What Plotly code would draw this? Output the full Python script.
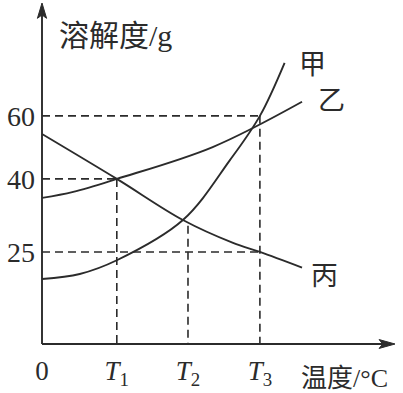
import math
import plotly.graph_objects as go

# ---- data ----
jia_x = [0.0, 0.52, 1.03, 1.94, 2.59, 3.0, 3.34]
jia_y = [21.0, 21.7, 23.7, 30.7, 45.2, 60.0, 84.4]

yi_x = [0.0, 0.43, 1.03, 2.35, 3.58]
yi_y = [35.4, 36.8, 40.0, 49.1, 65.7]

bing_x = [0.0, 1.03, 1.94, 2.63, 3.0, 3.58]
bing_y = [53.4, 40.0, 30.7, 26.5, 25.0, 22.6]

x_tick_vals = [0.0, 1.03, 2.01, 3.0]
x_tick_text = ["0", "<i>T</i><sub>1</sub>", "<i>T</i><sub>2</sub>", "<i>T</i><sub>3</sub>"]
y_tick_vals = [25, 40, 60]
y_tick_text = ["25", "40", "60"]

# guide lines: (level, x end) and (T position, y start)
h_guides = [(60, 3.0), (40, 1.03), (25, 3.0)]
v_guides = [(1.03, 40.0), (2.01, 29.6), (3.0, 60.0)]

curve_names = ["甲", "乙", "丙"]
label_x = [3.73, 3.99, 3.89]
label_y = [84.7, 67.0, 21.8]

y_min, y_max = 13.83, 124.0
x_min, x_max = 0.0, 4.86

INK = "#2b2b2b"
SERIF = "Liberation Serif, Times New Roman, serif"
CJK = "Noto Sans CJK SC, sans-serif"

fig = go.Figure()

for lvl, xe in h_guides:
    fig.add_trace(go.Scatter(x=[x_min, xe], y=[lvl, lvl], mode="lines",
                             line=dict(color=INK, width=1.6, dash="8px,5px"),
                             hoverinfo="skip", showlegend=False))
for xt, ys in v_guides:
    fig.add_trace(go.Scatter(x=[xt, xt], y=[ys, y_min], mode="lines",
                             line=dict(color=INK, width=1.6, dash="8px,5px"),
                             hoverinfo="skip", showlegend=False))

for xs, ys, name in zip([jia_x, yi_x, bing_x], [jia_y, yi_y, bing_y], curve_names):
    fig.add_trace(go.Scatter(x=xs, y=ys, mode="lines", name=name,
                             line=dict(color=INK, width=1.9, shape="spline", smoothing=1.0),
                             showlegend=False))

# curve name labels
for name, xa, ya in zip(curve_names, label_x, label_y):
    fig.add_annotation(x=xa, y=math.log10(ya), text=name, showarrow=False,
                       font=dict(family=CJK, size=27, color=INK))

# axis lines with arrowheads (paper coordinates)
fig.add_shape(type="line", xref="paper", yref="paper", x0=0, y0=0, x1=0, y1=0.985,
              line=dict(color=INK, width=1.9))
fig.add_shape(type="line", xref="paper", yref="paper", x0=0, y0=0, x1=0.985, y1=0,
              line=dict(color=INK, width=1.9))
fig.add_shape(type="path", xref="paper", yref="paper",
              path="M -0.013,0.955 L 0,1 L 0.013,0.955 L 0,0.965 Z",
              fillcolor=INK, line=dict(color=INK, width=1))
fig.add_shape(type="path", xref="paper", yref="paper",
              path="M 0.955,0.013 L 1,0 L 0.955,-0.013 L 0.965,0 Z",
              fillcolor=INK, line=dict(color=INK, width=1))

# axis titles
fig.add_annotation(x=(57 - 42) / 353, y=1 - (33 - 3) / 341, xref="paper", yref="paper",
                   xanchor="left", yanchor="middle", showarrow=False,
                   text="<span style='font-family:Noto Sans CJK SC'>溶解度</span>/g",
                   font=dict(family=SERIF, size=30, color=INK))
fig.add_annotation(x=(299 - 42) / 353, y=-(375 - 344) / 341, xref="paper", yref="paper",
                   xanchor="left", yanchor="middle", showarrow=False,
                   text="<span style='font-family:Noto Sans CJK SC'>温度</span>/°C",
                   font=dict(family=SERIF, size=26, color=INK))

fig.update_xaxes(range=[x_min, x_max], tickvals=x_tick_vals, ticktext=x_tick_text,
                 showgrid=False, zeroline=False, showline=False, ticks="",
                 ticklabelstandoff=8,
                 tickfont=dict(family=SERIF, size=27, color=INK))
fig.update_yaxes(type="log", range=[math.log10(y_min), math.log10(y_max)],
                 tickvals=y_tick_vals, ticktext=y_tick_text,
                 showgrid=False, zeroline=False, showline=False, ticks="",
                 ticklabelstandoff=6,
                 tickfont=dict(family=SERIF, size=28, color=INK))

fig.update_layout(width=403, height=393, margin=dict(l=42, r=8, t=3, b=49),
                  paper_bgcolor="white", plot_bgcolor="white")

fig.write_html("out.html")
